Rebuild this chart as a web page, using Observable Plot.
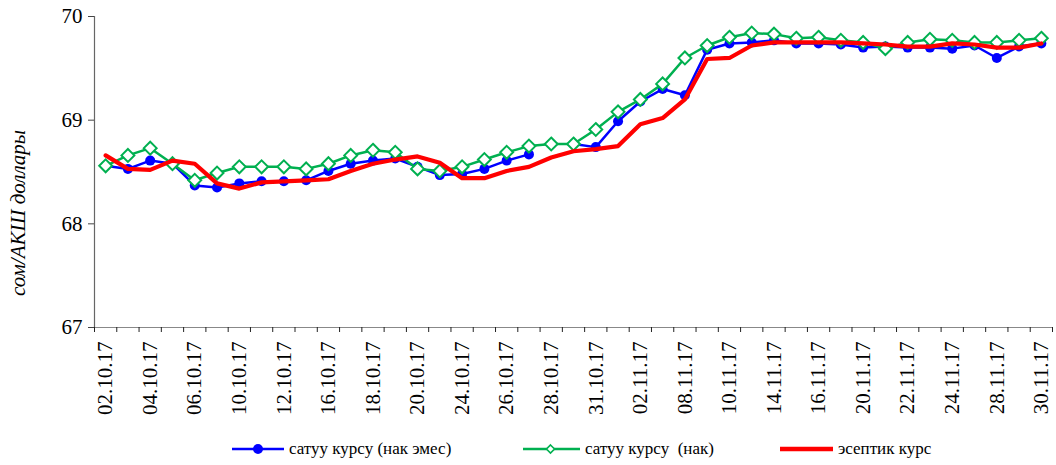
<!DOCTYPE html>
<html>
<head>
<meta charset="utf-8">
<script src="https://cdn.jsdelivr.net/npm/d3@7"></script>
<script src="https://cdn.jsdelivr.net/npm/@observablehq/plot@0.6"></script>
<style>
  html, body { margin: 0; padding: 0; background: #fff; }
  #chart { width: 1056px; height: 465px; position: relative; font-family: "Liberation Serif", "Times New Roman", Times, serif; }
  #chart svg, #chart svg text { font-family: "Liberation Serif", "Times New Roman", Times, serif !important; }
  #legend { position: relative; height: 40px; font-size: 17px; color: #000; }
  .item { position: absolute; top: 0; display: flex; align-items: center; height: 24px; white-space: nowrap; }
  .item svg { display: block; margin-right: 5px; flex-shrink: 0; }
  .item span { font-family: "Liberation Serif", "Times New Roman", Times, serif; font-size: 17px; white-space: pre; }
</style>
</head>
<body>
<div id="chart"></div>
<script>
const dates = ["02.10.17","03.10.17","04.10.17","05.10.17","06.10.17","09.10.17","10.10.17","11.10.17","12.10.17","13.10.17","16.10.17","17.10.17","18.10.17","19.10.17","20.10.17","23.10.17","24.10.17","25.10.17","26.10.17","27.10.17","28.10.17","30.10.17","31.10.17","01.11.17","02.11.17","03.11.17","08.11.17","09.11.17","10.11.17","13.11.17","14.11.17","15.11.17","16.11.17","17.11.17","20.11.17","21.11.17","22.11.17","23.11.17","24.11.17","27.11.17","28.11.17","29.11.17","30.11.17"];

const sellNonCash = [68.56, 68.53, 68.61, 68.58, 68.37, 68.35, 68.39, 68.41, 68.41, 68.42, 68.51, 68.58, 68.61, 68.63, 68.55, 68.47, 68.48, 68.53, 68.61, 68.67, null, 68.77, 68.74, 68.99, 69.18, 69.30, 69.24, 69.68, 69.74, 69.75, 69.77, 69.74, 69.74, 69.73, 69.70, 69.71, 69.70, 69.70, 69.69, 69.72, 69.60, 69.71, 69.74];

const sellCash = [68.56, 68.66, 68.73, 68.58, 68.42, 68.49, 68.55, 68.55, 68.55, 68.53, 68.58, 68.66, 68.71, 68.69, 68.53, 68.51, 68.55, 68.62, 68.69, 68.75, 68.77, 68.77, 68.91, 69.08, 69.20, 69.35, 69.60, 69.72, 69.80, 69.84, 69.83, 69.79, 69.80, 69.77, 69.75, 69.69, 69.75, 69.78, 69.77, 69.75, 69.75, 69.77, 69.79];

const official = [68.66, 68.53, 68.52, 68.61, 68.58, 68.39, 68.34, 68.40, 68.41, 68.42, 68.43, 68.51, 68.58, 68.62, 68.65, 68.59, 68.44, 68.44, 68.51, 68.55, 68.64, 68.70, 68.72, 68.75, 68.96, 69.02, 69.20, 69.59, 69.60, 69.72, 69.75, 69.75, 69.75, 69.75, 69.74, 69.73, 69.71, 69.71, 69.74, 69.73, 69.70, 69.70, 69.74];

const seriesNames = ["сатуу курсу (нак эмес)", "сатуу курсу  (нак)", "эсептик курс"];
const seriesColors = ["#0000ff", "#00b050", "#ff0000"];
const yTicks = [67, 68, 69, 70];
const yLabel = "сом/АКШ доллары";

const SERIF = "'Liberation Serif', 'Times New Roman', Times, serif";
const idx = dates.map((d, i) => i);
const rows = (arr) => arr.map((v, i) => ({i, date: dates[i], value: v}));
const blue = rows(sellNonCash), green = rows(sellCash), red = rows(official);

const H = 425;
const plot = Plot.plot({
  width: 1056,
  height: H,
  marginLeft: 94,
  marginRight: 4,
  marginTop: 16,
  marginBottom: H - 327,
  style: {fontFamily: SERIF, fontSize: "21px", color: "#000", background: "#fff"},
  x: {type: "linear", domain: [-0.5, dates.length - 0.5]},
  y: {domain: [67, 70]},
  marks: [
    Plot.ruleY([67], {stroke: "#888", strokeWidth: 1.2}),
    Plot.ruleX([-0.5], {y1: 67, y2: 70, stroke: "#666", strokeWidth: 1.2}),
    Plot.axisY({ticks: yTicks, tickSize: 6, tickPadding: 6, tickFormat: d => String(d), label: null, fontSize: 21, fontFamily: SERIF, stroke: "#444"}),
    Plot.axisX({ticks: d3.range(dates.length + 1).map(k => k - 0.5), tickSize: 5, tickFormat: () => "", label: null, stroke: "#222"}),
    Plot.axisX({ticks: idx.filter(i => i % 2 === 0), tickSize: 0, tickPadding: 14, tickRotate: -90, tickFormat: i => dates[i], label: null, fontSize: 21, fontFamily: SERIF}),
    Plot.text([yLabel], {frameAnchor: "left", textAnchor: "middle", dx: -76, dy: 41, rotate: -90, fontSize: 21, fontStyle: "italic", fontFamily: SERIF, fill: "#000"}),
    Plot.line(blue, {x: "i", y: "value", stroke: seriesColors[0], strokeWidth: 2.5}),
    Plot.dot(blue, {x: "i", y: "value", r: 5, fill: seriesColors[0], stroke: "none"}),
    Plot.line(green, {x: "i", y: "value", stroke: seriesColors[1], strokeWidth: 2.5}),
    Plot.dot(green, {x: "i", y: "value", symbol: "diamond2", r: 5.8, fill: "#fff", stroke: seriesColors[1], strokeWidth: 2}),
    Plot.line(red, {x: "i", y: "value", stroke: seriesColors[2], strokeWidth: 4.2})
  ]
});

const chart = document.getElementById("chart");
chart.appendChild(plot);

const legend = document.createElement("div");
legend.id = "legend";
legend.style.paddingTop = "12px";
const lefts = [232, 523, 780];
const swatches = [
  `<svg width="52" height="14" viewBox="0 0 52 14"><line x1="0" y1="7" x2="52" y2="7" stroke="${seriesColors[0]}" stroke-width="2.5"/><circle cx="26" cy="7" r="5" fill="${seriesColors[0]}"/></svg>`,
  `<svg width="57" height="14" viewBox="0 0 57 14"><line x1="0" y1="7" x2="57" y2="7" stroke="${seriesColors[1]}" stroke-width="2.5"/><path d="M27.5,3 L31.5,7 L27.5,11 L23.5,7 Z" fill="#fff" stroke="${seriesColors[1]}" stroke-width="1.6"/></svg>`,
  `<svg width="53" height="14" viewBox="0 0 53 14"><line x1="0" y1="7" x2="53" y2="7" stroke="${seriesColors[2]}" stroke-width="4.5"/></svg>`
];
seriesNames.forEach((name, k) => {
  const it = document.createElement("div");
  it.className = "item";
  it.style.left = lefts[k] + "px";
  it.style.top = "12px";
  it.innerHTML = swatches[k] + `<span>${name}</span>`;
  legend.appendChild(it);
});
chart.appendChild(legend);
</script>
</body>
</html>
